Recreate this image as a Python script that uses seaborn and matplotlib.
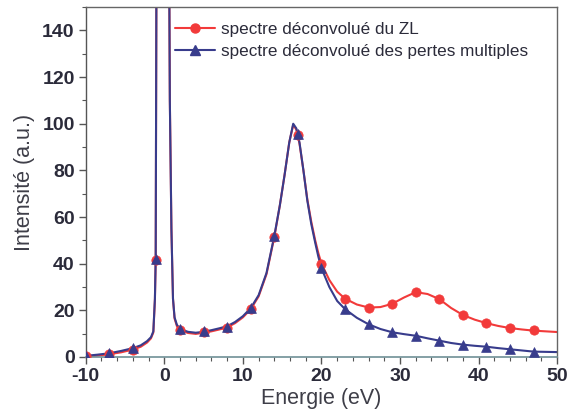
import matplotlib
matplotlib.use("Agg")
from matplotlib import pyplot as plt
from matplotlib.lines import Line2D
from matplotlib.ticker import MultipleLocator
import seaborn as sns

# spectre deconvolue du ZL: dense trace (eV, a.u.)
energy_zl = [-10, -8.5, -7, -5.5, -4, -3, -2.2, -1.7, -1.4, -1.2, -1.1, -0.9, -0.2, 0.5, 0.7,
             0.9, 1.1, 1.3, 1.6, 2, 3, 4, 5, 6, 7, 8, 9, 10, 11, 12, 13, 14, 14.7, 15.3, 15.9,
             16.4, 16.8, 17.2, 17.7, 18.2, 18.7, 19.2, 19.6, 20, 21, 22, 23, 24.5, 26, 27.5,
             29, 30.5, 32, 33.5, 35, 36.5, 38, 39.5, 41, 42.5, 44, 45.5, 47, 48.5, 50]
intensity_zl = [0.2, 0.6, 1.2, 2.0, 3.2, 4.4, 6.2, 8.0, 10.5, 24.5, 41.5, 300, 1000, 250, 110,
                55, 25, 16.5, 13.2, 11.5, 10.3, 9.9, 10.4, 11.0, 11.8, 12.7, 14.5, 17.0, 20.5,
                26, 35.5, 51.5, 65, 78, 92, 99.5, 97.5, 91.5, 80, 67.5, 58, 50, 44.5, 40, 33,
                28, 25, 22.5, 21.2, 21.4, 22.8, 25.5, 27.8, 27, 24.8, 21, 18, 16, 14.5, 13.3,
                12.4, 11.8, 11.3, 11, 10.7]

# spectre deconvolue des pertes multiples
energy_ml = energy_zl
intensity_ml = [0.5, 1.0, 1.6, 2.6, 3.8, 5.0, 6.8, 8.5, 11, 25, 42, 300, 1000, 250, 110,
                55, 25, 17, 13.8, 12, 10.8, 10.4, 10.8, 11.5, 12.3, 13.2, 15, 17.5, 21,
                26.5, 36, 52, 65, 78, 92, 100, 98, 92, 80, 67, 57, 49, 43, 38, 30,
                24, 20.5, 16.8, 14, 12, 10.6, 9.8, 9.1, 8, 7, 6, 5.3, 4.8, 4.4, 3.8,
                3.3, 2.8, 2.3, 2.2, 2.1]

# symbols, every 3 eV
mark_energy = [-10, -7, -4, -1.05, 2, 5, 8, 11, 14, 17, 20, 23, 26, 29, 32, 35, 38, 41, 44, 47]
mark_zl = [0.3, 1.2, 3.0, 41.5, 11.5, 10.5, 12.5, 20.5, 51.5, 95, 40, 25, 21.2, 22.8, 27.8,
           24.8, 18, 14.5, 12.5, 11.5]
mark_ml = [0.5, 1.6, 3.8, 42, 12, 11, 13, 21, 52, 95.5, 38, 20.5, 14, 10.6, 9.1, 7, 5.3,
           4.4, 3.3, 2.3]

RED = "#f23a3a"
BLUE = "#383c8c"
TXT = "#2b2b3a"

sns.set_theme(style="ticks")
plt.rcParams["font.family"] = ["Liberation Sans", "DejaVu Sans"]
plt.rcParams["axes.unicode_minus"] = False

fig = plt.figure(figsize=(5.68, 4.19), dpi=100)
ax = fig.add_axes([0.151, 0.148, 0.830, 0.835])

sns.lineplot(x=energy_zl, y=intensity_zl, ax=ax, color=RED, lw=1.5, sort=False, estimator=None)
sns.scatterplot(x=mark_energy, y=mark_zl, ax=ax, color=RED, marker="o", s=45,
                edgecolor=RED, linewidth=0.5, zorder=3)
sns.lineplot(x=energy_ml, y=intensity_ml, ax=ax, color=BLUE, lw=1.5, sort=False, estimator=None)
sns.scatterplot(x=mark_energy, y=mark_ml, ax=ax, color=BLUE, marker="^", s=50,
                edgecolor=BLUE, linewidth=0.5, zorder=4)

ax.set_xlim(-10, 50)
ax.set_ylim(0, 150)
ax.xaxis.set_major_locator(MultipleLocator(10))
ax.xaxis.set_minor_locator(MultipleLocator(2))
ax.yaxis.set_major_locator(MultipleLocator(20))
ax.yaxis.set_minor_locator(MultipleLocator(10))
ax.tick_params(which="major", length=5, width=1, color="#555555", labelsize=14,
               labelcolor=TXT, pad=3)
ax.tick_params(which="minor", length=3, width=0.8, color="#555555")
for lab in ax.get_xticklabels() + ax.get_yticklabels():
    lab.set_fontweight("bold")

for side in ["top", "right"]:
    ax.spines[side].set_color("#666666")
    ax.spines[side].set_linewidth(1.0)
ax.spines["left"].set_color("#555555")
ax.spines["bottom"].set_color("#6f9096")
ax.spines["left"].set_linewidth(1.0)
ax.spines["bottom"].set_linewidth(1.2)

ax.set_xlabel("Energie (eV)", fontsize=15.5, color="#3e3e48", labelpad=2)
ax.set_ylabel("Intensité (a.u.)", fontsize=15.5, color="#3e3e48", labelpad=5)

handles = [Line2D([], [], color=RED, lw=1.5, marker="o", markersize=6.5),
           Line2D([], [], color=BLUE, lw=1.5, marker="^", markersize=7)]
labels = ["spectre déconvolué du ZL", "spectre déconvolué des pertes multiples"]
ax.legend(handles, labels, loc="upper left", bbox_to_anchor=(0.19, 0.958), frameon=False,
          fontsize=12.3, handlelength=2.35, handletextpad=0.35, labelspacing=0.42,
          borderpad=0, borderaxespad=0, labelcolor=TXT)

fig.savefig("out.png", dpi=100)
